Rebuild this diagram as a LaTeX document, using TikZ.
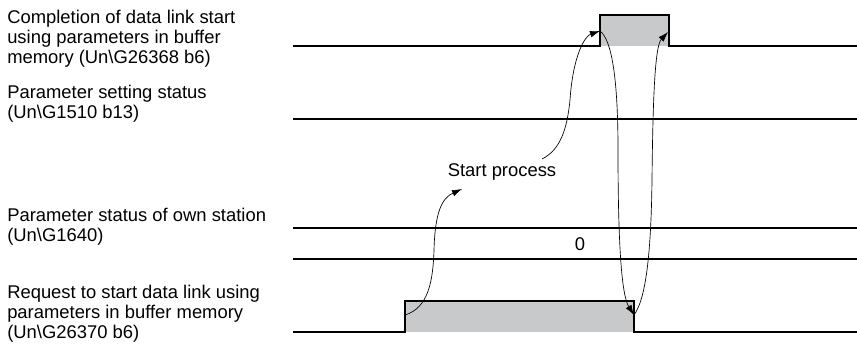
\documentclass[tikz,border=0pt]{standalone}
\usepackage{fontspec}
\setmainfont{Liberation Sans}
\usepackage{xcolor}
\usetikzlibrary{arrows.meta}
\definecolor{sigfill}{RGB}{200,201,202}

\begin{document}
\begin{tikzpicture}[x=0.75pt, y=-0.75pt,
    font=\fontsize{13.8}{15}\selectfont,
    lbl/.style={anchor=base west, align=left, inner sep=0pt},
    sig/.style={line width=0.95pt, line join=miter},
    flow/.style={line width=0.5pt, -{Latex[length=7.5pt,width=5pt]}}]
	\useasboundingbox (0,0) rectangle (857,347);

	% signal names (anchored on the last line)
	\node[lbl] (n1) at (7,63) {Completion of data link start\\using parameters in buffer\\memory (Un\textbackslash G26368 b6)};
	\node[lbl] (n2) at (7,118) {Parameter setting status\\(Un\textbackslash G1510 b13)};
	\node[lbl] (n3) at (7,241) {Parameter status of own station\\(Un\textbackslash G1640)};
	\node[lbl] (n4) at (7,338) {Request to start data link using\\parameters in buffer memory\\(Un\textbackslash G26370 b6)};

	% waveforms
	\fill[sigfill] (600,15) rectangle (669,46);
	\draw[sig] (293,46) -- (600,46) -- (600,15) -- (669,15) -- (669,46) -- (857,46);
	\draw[sig] (293,119) -- (857,119);
	\draw[sig] (293,228) -- (857,228);
	\draw[sig] (293,259) -- (857,259);
	\node (val) at (580,244) {0};
	\fill[sigfill] (405,301) rectangle (634,332);
	\draw[sig] (293,332) -- (405,332) -- (405,301) -- (634,301) -- (634,332) -- (857,332);

	% edges used by the arrows
	\coordinate (cUp) at (600,31);
	\coordinate (cDown) at (668,32);
	\coordinate (rUp) at (405,315);
	\coordinate (rDown) at (634,315);

	\node (sp) at (502,172) {Start process};
	\coordinate (spIn) at (462,189);
	\coordinate (spOut) at (542,159);

	\draw[flow] (rUp) .. controls (428,308) and (433,282) .. (434,250)
		.. controls (435,212) and (442,198) .. (spIn);
	\draw[flow] (spOut) .. controls (560,150) and (567,130) .. (570,100)
		.. controls (573,55) and (585,36) .. (cUp);
	\draw[flow] (cUp) .. controls (612,40) and (618,80) .. (618,150)
		.. controls (618,250) and (622,296) .. (rDown);
	\draw[flow] (rDown) .. controls (645,300) and (651,260) .. (652,180)
		.. controls (653,80) and (656,45) .. (cDown);
\end{tikzpicture}
\end{document}
